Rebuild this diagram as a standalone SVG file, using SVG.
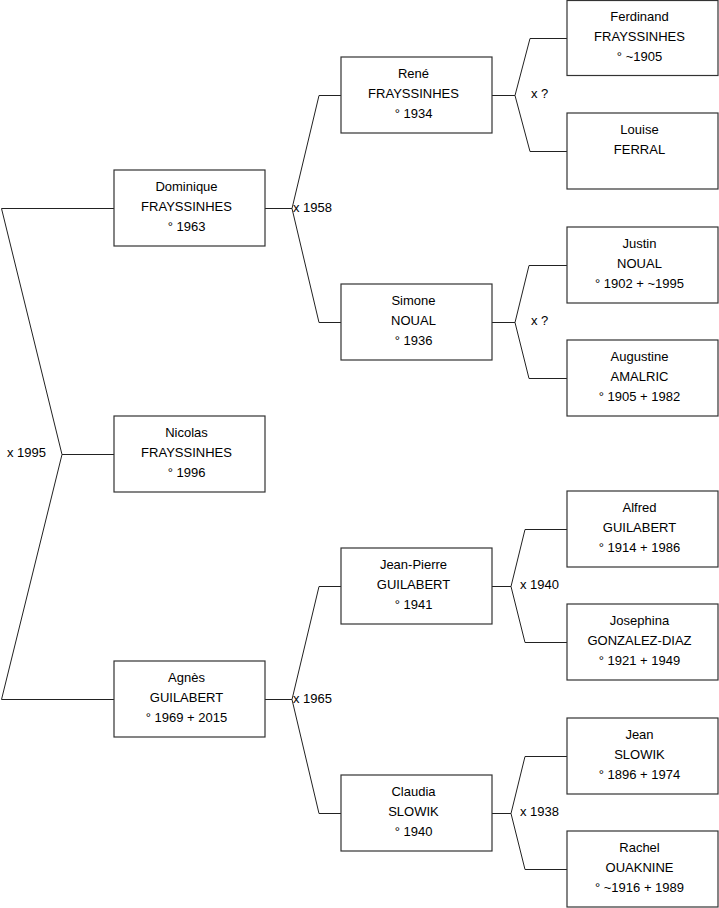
<svg xmlns="http://www.w3.org/2000/svg" width="719" height="908" viewBox="0 0 719 908">
<style>
.box{fill:#fff;stroke:#333;stroke-width:1.2}
.t{font-family:"Liberation Sans",Arial,sans-serif;font-size:13px;fill:#000;text-anchor:middle}
.lbl{font-family:"Liberation Sans",Arial,sans-serif;font-size:13px;fill:#000}
.c{fill:none;stroke:#222;stroke-width:1}
</style>
<rect width="719" height="908" fill="#fff"/>
<g id="connectors">
<path class="c" d="M114,208.5 H1.5 L62,454.5 L1.5,699.5 H114 M62,454.5 H114"/>
<path class="c" d="M265,208.5 H292 M341,95.5 H319 L292,208.5 L319,322.5 H341"/>
<path class="c" d="M265,699.5 H292 M341,586.5 H319 L292,699.5 L319,813.5 H341"/>
<path class="c" d="M492,95.5 H515 M567,38.5 H530 L515,95.5 L530,151.5 H567"/>
<path class="c" d="M492,322.5 H515 M567,265.5 H529 L515,322.5 L529,378.5 H567"/>
<path class="c" d="M492,586.5 H511 M567,529.5 H525 L511,586.5 L525,642.5 H567"/>
<path class="c" d="M492,813.5 H511 M567,756.5 H525 L511,813.5 L525,869.5 H567"/>
<text class="lbl" x="7" y="457">x 1995</text>
<text class="lbl" x="293" y="212">x 1958</text>
<text class="lbl" x="293" y="703">x 1965</text>
<text class="lbl" x="531" y="98">x ?</text>
<text class="lbl" x="531" y="325">x ?</text>
<text class="lbl" x="520" y="589">x 1940</text>
<text class="lbl" x="520" y="816">x 1938</text>
</g>
<g id="nicolas"><rect class="box" x="114" y="416" width="151" height="76"/><text class="t" x="186.5" y="437">Nicolas</text><text class="t" x="186.5" y="457">FRAYSSINHES</text><text class="t" x="186.5" y="477">° 1996</text></g>
<g id="dominique"><rect class="box" x="114" y="170" width="151" height="76"/><text class="t" x="186.5" y="191">Dominique</text><text class="t" x="186.5" y="211">FRAYSSINHES</text><text class="t" x="186.5" y="231">° 1963</text></g>
<g id="agnes"><rect class="box" x="114" y="661" width="151" height="76"/><text class="t" x="186.5" y="682">Agnès</text><text class="t" x="186.5" y="702">GUILABERT</text><text class="t" x="186.5" y="722">° 1969 + 2015</text></g>
<g id="rene"><rect class="box" x="341" y="57" width="151" height="76"/><text class="t" x="413.5" y="78">René</text><text class="t" x="413.5" y="98">FRAYSSINHES</text><text class="t" x="413.5" y="118">° 1934</text></g>
<g id="simone"><rect class="box" x="341" y="284" width="151" height="76"/><text class="t" x="413.5" y="305">Simone</text><text class="t" x="413.5" y="325">NOUAL</text><text class="t" x="413.5" y="345">° 1936</text></g>
<g id="jeanpierre"><rect class="box" x="341" y="548" width="151" height="76"/><text class="t" x="413.5" y="569">Jean-Pierre</text><text class="t" x="413.5" y="589">GUILABERT</text><text class="t" x="413.5" y="609">° 1941</text></g>
<g id="claudia"><rect class="box" x="341" y="775" width="151" height="76"/><text class="t" x="413.5" y="796">Claudia</text><text class="t" x="413.5" y="816">SLOWIK</text><text class="t" x="413.5" y="836">° 1940</text></g>
<g id="ferdinand"><rect class="box" x="567" y="0.5" width="151" height="75"/><text class="t" x="639.5" y="21">Ferdinand</text><text class="t" x="639.5" y="41">FRAYSSINHES</text><text class="t" x="639.5" y="61">° ~1905</text></g>
<g id="louise"><rect class="box" x="567" y="113" width="151" height="76"/><text class="t" x="639.5" y="134">Louise</text><text class="t" x="639.5" y="154">FERRAL</text></g>
<g id="justin"><rect class="box" x="567" y="227" width="151" height="76"/><text class="t" x="639.5" y="248">Justin</text><text class="t" x="639.5" y="268">NOUAL</text><text class="t" x="639.5" y="288">° 1902 + ~1995</text></g>
<g id="augustine"><rect class="box" x="567" y="340" width="151" height="76"/><text class="t" x="639.5" y="361">Augustine</text><text class="t" x="639.5" y="381">AMALRIC</text><text class="t" x="639.5" y="401">° 1905 + 1982</text></g>
<g id="alfred"><rect class="box" x="567" y="491" width="151" height="76"/><text class="t" x="639.5" y="512">Alfred</text><text class="t" x="639.5" y="532">GUILABERT</text><text class="t" x="639.5" y="552">° 1914 + 1986</text></g>
<g id="josephina"><rect class="box" x="567" y="604" width="151" height="76"/><text class="t" x="639.5" y="625">Josephina</text><text class="t" x="639.5" y="645">GONZALEZ-DIAZ</text><text class="t" x="639.5" y="665">° 1921 + 1949</text></g>
<g id="jean"><rect class="box" x="567" y="718" width="151" height="76"/><text class="t" x="639.5" y="739">Jean</text><text class="t" x="639.5" y="759">SLOWIK</text><text class="t" x="639.5" y="779">° 1896 + 1974</text></g>
<g id="rachel"><rect class="box" x="567" y="831" width="151" height="76"/><text class="t" x="639.5" y="852">Rachel</text><text class="t" x="639.5" y="872">OUAKNINE</text><text class="t" x="639.5" y="892">° ~1916 + 1989</text></g>
</svg>
